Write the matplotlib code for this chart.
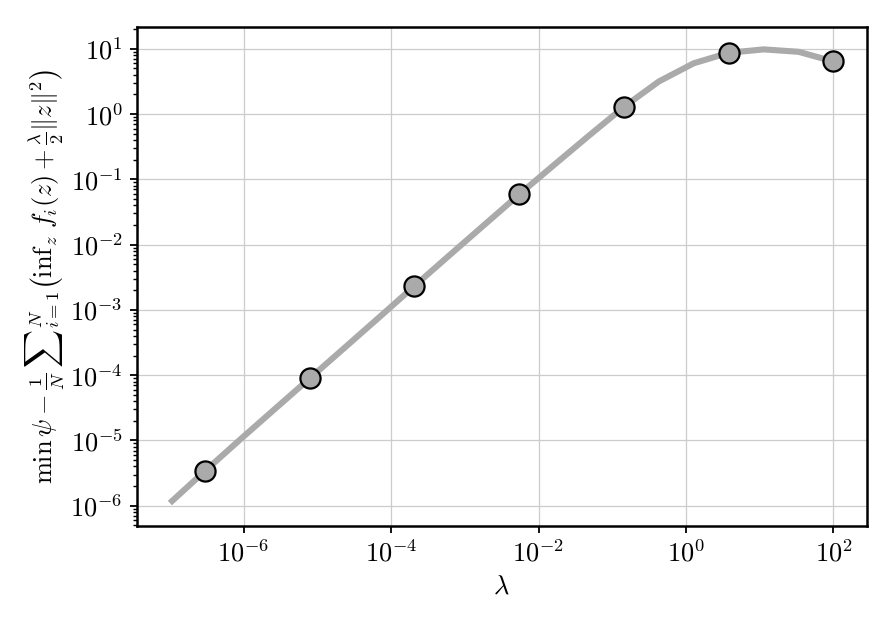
import numpy as np
import matplotlib
matplotlib.use("Agg")
import matplotlib.pyplot as plt

plt.rcParams["font.family"] = "serif"
plt.rcParams["font.serif"] = ["cmr10", "DejaVu Serif"]
plt.rcParams["mathtext.fontset"] = "cm"
plt.rcParams["axes.formatter.use_mathtext"] = True

# regularisation strength (log-spaced grid) and gap values
lam = [1.00e-7, 2.98e-7, 8.86e-7, 2.64e-6, 7.85e-6, 2.34e-5, 6.95e-5,
       2.07e-4, 6.16e-4, 1.83e-3, 5.46e-3, 1.62e-2, 4.83e-2, 1.44e-1,
       4.28e-1, 1.27, 3.79, 11.3, 33.6, 100.0]
gap = [1.10e-6, 3.39e-6, 1.02e-5, 3.02e-5, 8.90e-5, 2.63e-4, 7.76e-4,
       2.32e-3, 6.84e-3, 2.00e-2, 5.87e-2, 1.66e-1, 4.68e-1, 1.29,
       3.16, 6.0, 8.7, 9.8, 9.0, 6.4]

GREY = "#aaaaaa"
FS = 19

fig = plt.figure(figsize=(8.91, 6.24), dpi=100)
ax = fig.add_axes([0.1534, 0.1575, 0.8193, 0.7997])

ax.plot(lam, gap, color=GREY, lw=4.4, marker="o", markevery=(1, 3),
        markersize=14.5, markerfacecolor=GREY, markeredgecolor="k",
        markeredgewidth=1.6, solid_capstyle="butt", zorder=3)

ax.set_xscale("log")
ax.set_yscale("log")
ax.grid(True, which="major", color="#cccccc", lw=0.9)
ax.set_axisbelow(True)

for s in ax.spines.values():
    s.set_linewidth(1.8)
ax.tick_params(which="major", labelsize=FS, width=1.3, length=5, pad=5)
ax.tick_params(which="minor", width=1.0, length=3)

ax.set_xlabel(r"$\lambda$", fontsize=FS, labelpad=6)
ax.set_ylabel(r"$\min\,\psi - \frac{1}{N}\,{\sum}_{i=1}^{N}\left(\inf_z\, f_i(z) + \frac{\lambda}{2}\|z\|^2\right)$",
              fontsize=FS)
ax.yaxis.set_label_coords(-0.095, 0.5)

fig.savefig("out.png", dpi=100)
